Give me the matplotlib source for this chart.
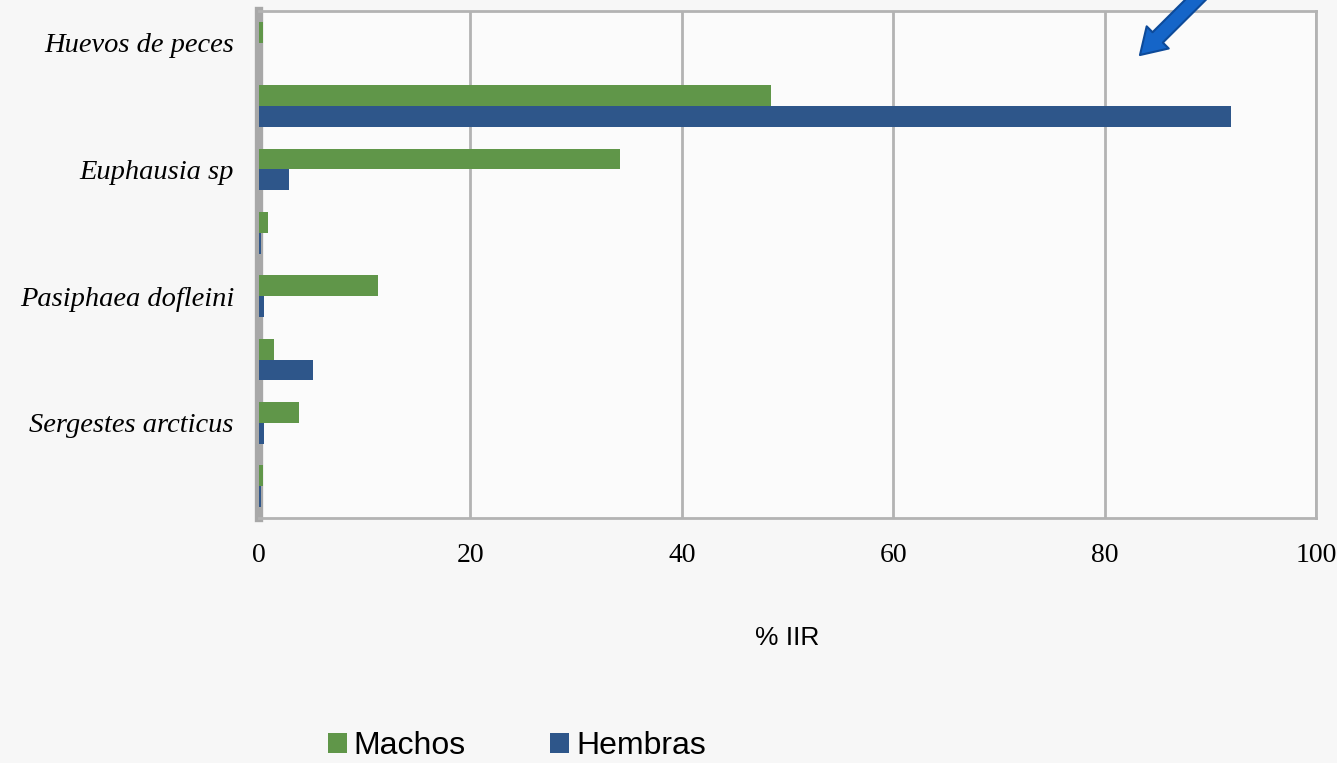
import matplotlib.pyplot as plt
import numpy as np

categories = ["Huevos de peces", "", "Euphausia sp", "", "Pasiphaea dofleini", "",
              "Sergestes arcticus", ""]
machos = [0.4, 48.4, 34.2, 0.9, 11.3, 1.4, 3.8, 0.4]
hembras = [0.0, 92.0, 2.8, 0.2, 0.5, 5.1, 0.5, 0.2]

green = "#609649"
blue = "#2e568a"
grid_col = "#b3b3b3"

fig = plt.figure(figsize=(13.37, 7.63), dpi=100, facecolor="#f7f7f7")
ax = fig.add_axes([0.1937, 0.3211, 0.7906, 0.6645])
ax.set_facecolor("#fbfbfb")

y = np.arange(len(categories))
h = 0.33
ax.barh(y - h / 2, machos, height=h, color=green, linewidth=0, label="Machos", zorder=3)
ax.barh(y + h / 2, hembras, height=h, color=blue, linewidth=0, label="Hembras", zorder=3)

ax.set_xlim(0, 100)
ax.set_ylim(len(categories) - 0.5, -0.5)
ax.set_xticks(range(0, 101, 20))
ax.set_yticks(y)
ax.set_yticklabels(categories, fontfamily="Liberation Serif", fontstyle="italic", fontsize=20.5)
for t in ax.get_xticklabels():
    t.set_fontfamily("Liberation Serif")
    t.set_fontsize(20)
ax.tick_params(axis="y", length=0, pad=18)
ax.tick_params(axis="x", length=0, pad=18)
ax.xaxis.grid(True, color=grid_col, linewidth=2, zorder=0)

for s in ["top", "right", "bottom"]:
    ax.spines[s].set_color(grid_col)
    ax.spines[s].set_linewidth(2)
ax.spines["left"].set_color("#a8a8a8")
ax.spines["left"].set_linewidth(6)

ax.set_xlabel("% IIR", fontfamily="Liberation Sans", fontsize=19, labelpad=42)

fig.legend(*ax.get_legend_handles_labels(), loc="center left",
           bbox_to_anchor=(328 / 1337, 0.022), ncol=2, frameon=False,
           prop={"family": "Liberation Sans", "size": 23}, handlelength=0.6,
           handleheight=0.6, handletextpad=0.2, columnspacing=2.65,
           borderpad=0, borderaxespad=0)

fig.patches.append(plt.matplotlib.patches.FancyArrowPatch(
    (1203 / 1337, 1.01), (1138 / 1337, 1 - 57 / 763), transform=fig.transFigure,
    arrowstyle="simple,head_width=1.5,head_length=1.2,tail_width=0.7",
    mutation_scale=15, facecolor="#1565c8", edgecolor="#0d4a99", linewidth=1.5))

fig.savefig("out.png", dpi=100, facecolor=fig.get_facecolor())
